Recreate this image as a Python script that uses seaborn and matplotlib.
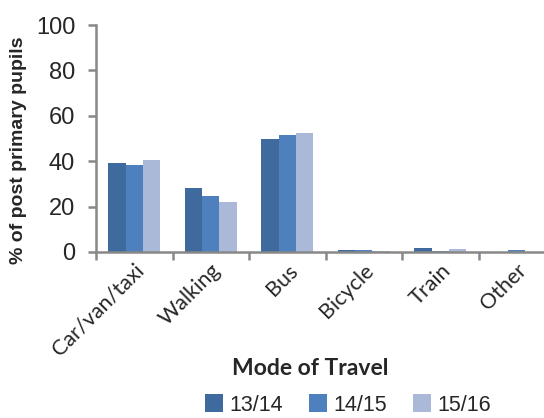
import pandas as pd
import numpy as np
import matplotlib
matplotlib.use("Agg")
import matplotlib.pyplot as plt
import seaborn as sns

# modos de viagem e percentuais por ano letivo
modos = ["Car/van/taxi", "Walking", "Bus", "Bicycle", "Train", "Other"]
anos = ["13/14", "14/15", "15/16"]
v_1314 = [39.0, 28.2, 49.7, 0.7, 1.6, 0.0]
v_1415 = [38.3, 24.7, 51.4, 0.7, 0.6, 0.7]
v_1516 = [40.4, 22.1, 52.3, 0.6, 1.5, 0.0]
cores = ["#3E6A9D", "#4E80BD", "#AAB9D7"]

df = pd.DataFrame({
    "modo": modos * 3,
    "ano": [a for a in anos for _ in modos],
    "pct": v_1314 + v_1415 + v_1516,
})

sns.set_style("white")
plt.rcParams["font.family"] = ["Liberation Sans", "DejaVu Sans"]

W, H = 544, 418
fig = plt.figure(figsize=(W / 100, H / 100), dpi=100)
ax = fig.add_axes([96 / W, 1 - 252 / H, (555 - 96) / W, (252 - 25) / H])

sns.barplot(data=df, x="modo", y="pct", hue="ano", palette=cores,
            width=0.68, gap=0, saturation=1, linewidth=0, ax=ax, legend=True)

ax.set_ylim(0, 100)
ax.set_xlim(-0.5, 5.5)
ax.set_yticks(np.arange(0, 101, 20))
for s in ["top", "right"]:
    ax.spines[s].set_visible(False)
for s in ["left", "bottom"]:
    ax.spines[s].set_color("#888888")
    ax.spines[s].set_linewidth(1.8)

ax.tick_params(axis="y", direction="out", length=6, width=1.8, color="#888888",
               labelsize=17, pad=9, left=True)
ax.tick_params(axis="x", which="major", length=0, pad=6)
ax.set_xticks(np.arange(-0.5, 6, 1), minor=True)
ax.tick_params(axis="x", which="minor", direction="out", length=6, width=1.8,
               color="#888888", bottom=True)

ax.set_xticks(range(len(modos)))
ax.set_xticklabels(modos, rotation=45, ha="right", rotation_mode="anchor",
                   fontsize=15.5, family="Lato")

ax.set_ylabel("% of post primary pupils", fontsize=14, fontweight="bold")
ax.yaxis.set_label_coords(-0.15, 0.45)
ax.set_xlabel("Mode of Travel", fontsize=16.5, fontweight="bold", family="Lato")
ax.xaxis.set_label_coords(0.466, -0.465)

h, l = ax.get_legend_handles_labels()
ax.get_legend().remove()
fig.legend(h, l, loc="center", bbox_to_anchor=(348 / W, 1 - 405 / H), ncol=3,
           frameon=False, fontsize=15.5, handlelength=0.85, handleheight=0.85,
           handletextpad=0.3, columnspacing=1.2)

fig.savefig("out.png", dpi=100)
